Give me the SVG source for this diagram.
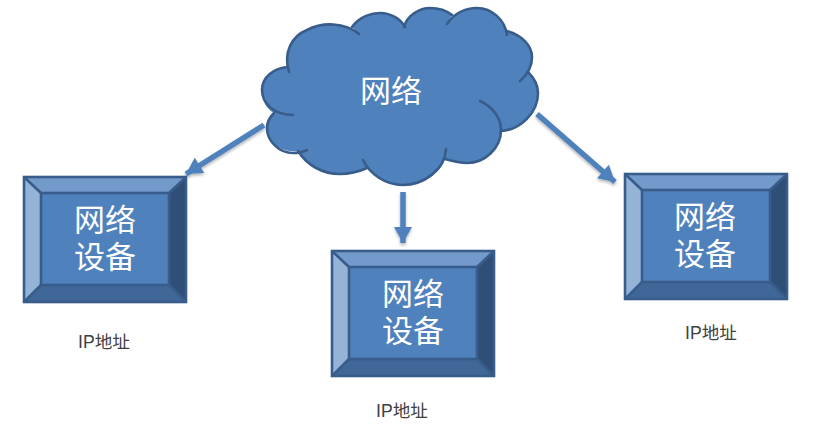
<svg xmlns="http://www.w3.org/2000/svg" width="819" height="428" viewBox="0 0 819 428">
  <style>
    .line { fill: none; stroke: #385d8a; stroke-width: 2.6; stroke-linecap: round; stroke-linejoin: round; }
    .edge { stroke: #4f81bd; stroke-width: 5.5; fill: none; marker-end: url(#head); filter: url(#shadow); }
    .face { fill: #4f81bd; }
    .top { fill: #729aca; }
    .left { fill: #95b3d7; }
    .right { fill: #2f4f77; }
    .bottom { fill: #3f6797; }
    .seam { fill: none; stroke: #385d8a; stroke-width: 2.6; stroke-linejoin: miter; }
    .big { font-family: "Noto Sans CJK SC", "Liberation Sans", sans-serif; font-size: 31px; fill: #ffffff; text-anchor: middle; }
    .note { font-family: "Liberation Sans", "Noto Sans CJK SC", sans-serif; font-size: 17.6px; fill: #404040; text-anchor: middle; }
  </style>
  <defs>
    <marker id="head" markerUnits="userSpaceOnUse" markerWidth="20" markerHeight="20" refX="17" refY="9" orient="auto">
      <path d="M1 0 L17 9 L1 18 Z" fill="#4f81bd"/>
    </marker>
    <filter id="shadow" filterUnits="userSpaceOnUse" x="150" y="100" width="500" height="170">
      <feDropShadow dx="0" dy="2" stdDeviation="1.6" flood-color="#000000" flood-opacity="0.3"/>
    </filter>
    <g id="bevel">
      <rect class="face" x="0" y="0" width="162" height="125"/>
      <path class="top" d="M0 0 H162 L145 16 H17 Z"/>
      <path class="left" d="M0 0 L17 16 V108 L0 125 Z"/>
      <path class="right" d="M162 0 V125 L145 108 V16 Z"/>
      <path class="bottom" d="M0 125 L17 108 H145 L162 125 Z"/>
      <path class="seam" d="M0 0 L17 16 M162 0 L145 16 M0 125 L17 108 M162 125 L145 108"/>
      <rect class="seam" x="17" y="16" width="128" height="92"/>
      <rect class="seam" x="0" y="0" width="162" height="125"/>
    </g>
  </defs>

  <g id="connectors">
    <path class="edge" d="M264 125 L186 174"/>
    <path class="edge" d="M403 192 L403 243"/>
    <path class="edge" d="M537 114 L615 182"/>
  </g>

  <g id="cloud">
    <path fill="#4f81bd" d="M289 72 C283 52 292 36 307 30 C322 22 345 22 359 34 L352 27 C360 16 372 13 380 13 C390 13 400 18 405 27 C407 15 420 8 430 8 C438 8 447 11 452 15 L447 24 C454 13 466 8 477 8 C492 8 505 20 507 35 L507 31 C522 35 532 46 532 57 C532 62 531 67 528 72 C535 79 538 86 538 93 C538 113 520 130 501 131 C501 148 485 163 467 163 C459 163 452 161 445 159 C440 174 423 185 403 185 C385 185 370 174 363 160 L367 168 C358 172 349 174 340 174 C322 174 307 165 298 151 C279 153 267 141 267 128 C267 122 270 117 274 113 C265 108 262 99 262 90 C262 77 274 68 288 67 Z"/>
    <path class="line" d="M289 72 C283 52 292 36 307 30 C322 22 345 22 359 34"/>
    <path class="line" d="M352 27 C360 16 372 13 380 13 C390 13 400 18 405 27"/>
    <path class="line" d="M404 27 C407 15 420 8 430 8 C438 8 447 11 452 15"/>
    <path class="line" d="M447 24 C454 13 466 8 477 8 C492 8 505 20 507 35"/>
    <path class="line" d="M507 31 C522 35 532 46 532 57 C532 66 527 75 520 81"/>
    <path class="line" d="M528 72 C535 79 538 86 538 93 C538 113 520 130 501 131"/>
    <path class="line" d="M480 101 C493 107 501 118 501 130 C501 148 485 163 467 163 C459 163 452 161 445 159"/>
    <path class="line" d="M446 149 C445 170 423 185 403 185 C385 185 370 174 363 160"/>
    <path class="line" d="M367 168 C358 172 349 174 340 174 C322 174 307 165 298 151"/>
    <path class="line" d="M307 150 C303 152 298 153 293 153 C279 153 267 141 267 128 C267 122 270 117 274 113"/>
    <path class="line" d="M293 115 C275 115 262 104 262 90 C262 77 274 68 288 67"/>
    <text class="big" x="391" y="102">网络</text>
  </g>

  <g id="device-left">
    <use href="#bevel" x="24" y="177"/>
    <text class="big" x="105" y="231">网络</text>
    <text class="big" x="105" y="268">设备</text>
  </g>
  <g id="device-middle">
    <use href="#bevel" x="332" y="251"/>
    <text class="big" x="413" y="305">网络</text>
    <text class="big" x="413" y="342">设备</text>
  </g>
  <g id="device-right">
    <use href="#bevel" x="625" y="174"/>
    <text class="big" x="705" y="228">网络</text>
    <text class="big" x="705" y="265">设备</text>
  </g>

  <g id="labels">
    <text class="note" x="104" y="348">IP地址</text>
    <text class="note" x="402" y="417">IP地址</text>
    <text class="note" x="711" y="339">IP地址</text>
  </g>
</svg>
